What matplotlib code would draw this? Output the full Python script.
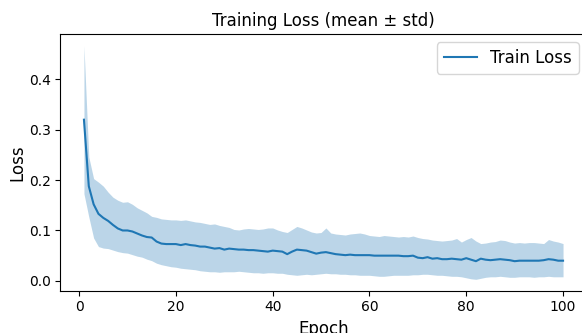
import numpy as np
import matplotlib
matplotlib.use('Agg')
import matplotlib.pyplot as plt

# values
epochs = list(range(1, 101))

mean_loss = [
    0.320, 0.188, 0.152, 0.133, 0.125, 0.119, 0.111, 0.104, 0.100, 0.100,
    0.098, 0.094, 0.090, 0.087, 0.086, 0.078, 0.074, 0.073, 0.073, 0.073,
    0.071, 0.073, 0.071, 0.070, 0.068, 0.068, 0.066, 0.064, 0.065, 0.062,
    0.064, 0.063, 0.062, 0.062, 0.061, 0.061, 0.060, 0.059, 0.058, 0.060,
    0.059, 0.058, 0.053, 0.058, 0.062, 0.061, 0.060, 0.057, 0.054, 0.056,
    0.057, 0.055, 0.053, 0.052, 0.051, 0.052, 0.051, 0.051, 0.051, 0.051,
    0.050, 0.050, 0.050, 0.050, 0.050, 0.050, 0.049, 0.049, 0.050, 0.046,
    0.045, 0.047, 0.044, 0.045, 0.043, 0.043, 0.044, 0.043, 0.042, 0.045,
    0.042, 0.039, 0.044, 0.042, 0.041, 0.042, 0.043, 0.042, 0.041, 0.039,
    0.040, 0.040, 0.040, 0.040, 0.040, 0.041, 0.043, 0.042, 0.040, 0.040,
]

band_high = [
    0.467, 0.246, 0.203, 0.196, 0.188, 0.176, 0.166, 0.160, 0.156, 0.157,
    0.152, 0.145, 0.140, 0.135, 0.128, 0.126, 0.123, 0.122, 0.121, 0.121,
    0.120, 0.121, 0.119, 0.117, 0.116, 0.114, 0.112, 0.113, 0.110, 0.108,
    0.106, 0.102, 0.101, 0.103, 0.104, 0.103, 0.102, 0.103, 0.105, 0.105,
    0.101, 0.098, 0.096, 0.102, 0.108, 0.105, 0.101, 0.097, 0.095, 0.096,
    0.105, 0.095, 0.093, 0.092, 0.091, 0.093, 0.094, 0.095, 0.093, 0.090,
    0.089, 0.088, 0.090, 0.089, 0.088, 0.087, 0.088, 0.087, 0.089, 0.086,
    0.084, 0.083, 0.081, 0.080, 0.079, 0.080, 0.081, 0.084, 0.077, 0.082,
    0.086, 0.079, 0.074, 0.075, 0.077, 0.078, 0.081, 0.080, 0.077, 0.075,
    0.076, 0.075, 0.076, 0.076, 0.075, 0.074, 0.082, 0.079, 0.077, 0.074,
]

band_low = [
    0.173, 0.127, 0.085, 0.068, 0.065, 0.064, 0.061, 0.058, 0.056, 0.055,
    0.052, 0.049, 0.047, 0.043, 0.040, 0.035, 0.032, 0.030, 0.028, 0.027,
    0.025, 0.024, 0.023, 0.022, 0.020, 0.019, 0.018, 0.018, 0.017, 0.018,
    0.018, 0.018, 0.019, 0.018, 0.017, 0.016, 0.016, 0.015, 0.016, 0.016,
    0.015, 0.015, 0.013, 0.012, 0.011, 0.012, 0.013, 0.012, 0.013, 0.014,
    0.015, 0.014, 0.014, 0.013, 0.013, 0.012, 0.012, 0.011, 0.011, 0.011,
    0.010, 0.009, 0.009, 0.010, 0.011, 0.011, 0.011, 0.011, 0.012, 0.012,
    0.013, 0.013, 0.012, 0.011, 0.011, 0.010, 0.009, 0.009, 0.008, 0.006,
    0.004, 0.003, 0.005, 0.007, 0.008, 0.008, 0.009, 0.008, 0.007, 0.007,
    0.008, 0.008, 0.008, 0.007, 0.008, 0.008, 0.009, 0.008, 0.008, 0.008,
]

fig = plt.figure(figsize=(5.82, 3.33), dpi=100)
# the reference is a crop: right spine and x label are cut off
ax = fig.add_axes([60 / 582, 42 / 333, 527 / 582, 257 / 333])

ax.plot(epochs, mean_loss, color='#1f77b4', linewidth=1.5, label='Train Loss')
ax.fill_between(epochs, band_low, band_high, color='#1f77b4', alpha=0.3, linewidth=0)

ax.set_title('Training Loss (mean ± std)', fontsize=12)
ax.set_xlabel('Epoch', fontsize=12, labelpad=4)
ax.set_ylabel('Loss', fontsize=12, labelpad=2)
ax.set_xticks([0, 20, 40, 60, 80, 100])
ax.set_yticks([0.0, 0.1, 0.2, 0.3, 0.4])
ax.tick_params(labelsize=10, pad=3)
ax.legend(loc='upper right', fontsize=12)

fig.savefig('out.png', dpi=100)
